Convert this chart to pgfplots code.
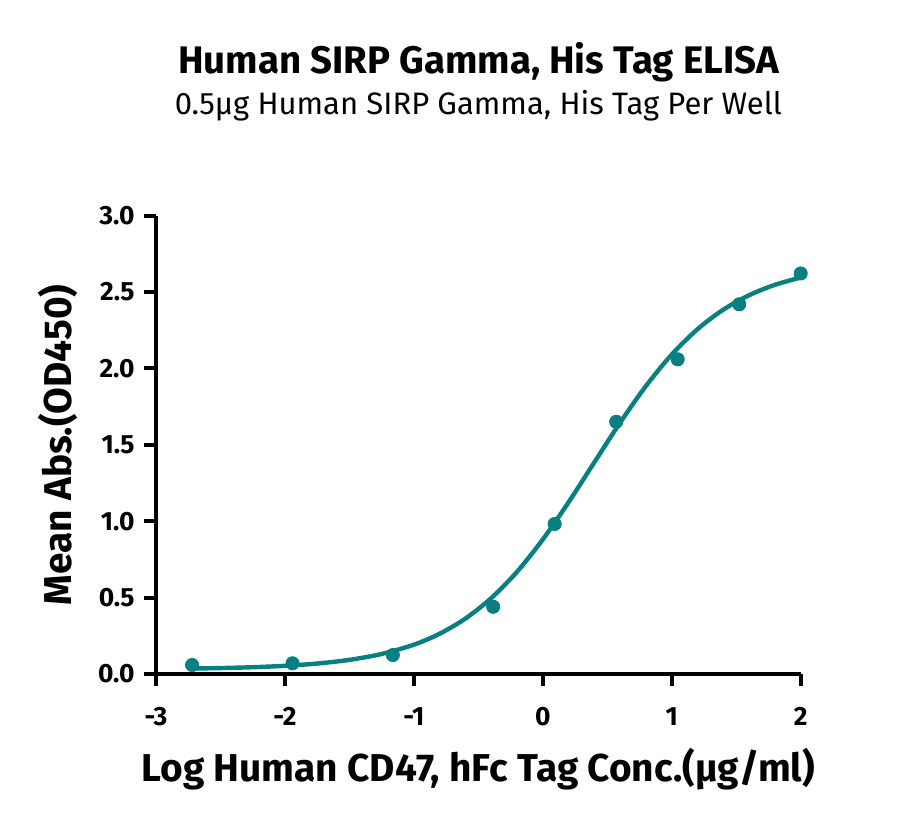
\documentclass[border=0pt]{standalone}
\usepackage{fontspec}
\setmainfont{Fira Sans}
\usepackage{pgfplots}
\pgfplotsset{compat=1.18}
\definecolor{teal1}{RGB}{8,127,128}
\begin{document}
\begin{tikzpicture}
\begin{axis}[
  at={(0pt,0pt)}, anchor=south west,
  scale only axis, width=322.35pt, height=229.15pt,
  xmin=-3, xmax=2, ymin=0, ymax=3,
  axis lines=left,
  axis line style={-, line width=2pt, black},
  tick style={line width=2pt, black},
  tick align=outside, major tick length=6pt,
  clip=false,
  xtick={-3,-2,-1,0,1,2},
  xticklabels={-3,-2,-1,0,1,2},
  ytick={0,0.5,1,1.5,2,2.5,3},
  yticklabels={0.0,0.5,1.0,1.5,2.0,2.5,3.0},
  ticklabel style={font=\fontsize{13.2}{15}\selectfont\bfseries},
  xticklabel style={anchor=north, inner sep=0pt, yshift=-10.5pt},
  yticklabel style={anchor=east, inner sep=0pt, xshift=-4.5pt},
  xlabel={Log Human CD47, hFc Tag Conc.(µg/ml)},
  ylabel={Mean Abs.(OD450)},
  xlabel style={at={(axis description cs:0.5,0)}, anchor=base, yshift=-53.85pt, font=\fontsize{19.4}{22}\selectfont\bfseries},
  ylabel style={at={(axis description cs:0,0.5)}, anchor=base, yshift=42.15pt, font=\fontsize{19.4}{22}\selectfont\bfseries},
]
\addplot[color=teal1, line width=2.2pt, smooth, no marks] coordinates {
(-2.72,0.0357) (-2.5,0.0388) (-2.25,0.0444) (-2.0,0.0536) (-1.75,0.0685)
(-1.5,0.0925) (-1.25,0.1310) (-1.0,0.1919) (-0.8,0.2636) (-0.6,0.3631)
(-0.4,0.4967) (-0.2,0.6692) (0.0,0.8809) (0.2,1.1247) (0.4,1.3862)
(0.6,1.6460) (0.8,1.8857) (1.0,2.0913) (1.2,2.2574) (1.4,2.3851)
(1.6,2.4796) (1.8,2.5475) (2.0,2.5955)
};
\addplot[only marks, mark=*, mark size=3.3pt, color=teal1, fill=teal1] coordinates {
(-2.72,0.059) (-1.941,0.070) (-1.163,0.124) (-0.385,0.440) (0.092,0.982)
(0.569,1.651) (1.046,2.060) (1.523,2.420) (2.0,2.622)
};
\end{axis}
\node[anchor=base, font=\fontsize{19.2}{22}\selectfont\bfseries] at (161.2pt,300.25pt) {Human SIRP Gamma, His Tag ELISA};
\node[anchor=base, font=\fontsize{15.5}{18}\selectfont] at (161.2pt,279.65pt) {0.5µg Human SIRP Gamma, His Tag Per Well};
\path[use as bounding box] (-78pt,-75.5pt) rectangle (372pt,337pt);
\end{tikzpicture}
\end{document}
